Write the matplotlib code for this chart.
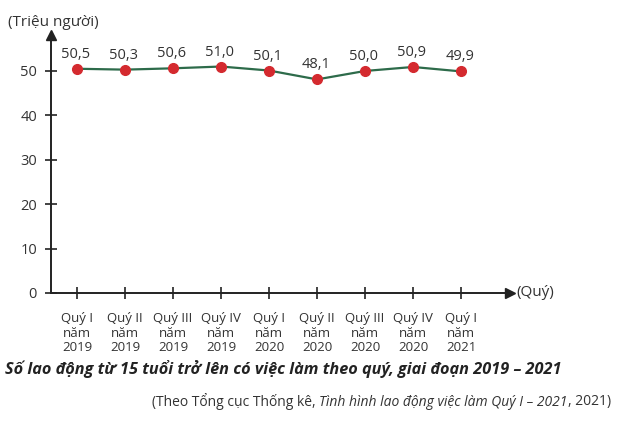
import matplotlib
matplotlib.use("Agg")
import matplotlib.pyplot as plt

quarters = ["Quý I", "Quý II", "Quý III", "Quý IV", "Quý I", "Quý II", "Quý III", "Quý IV", "Quý I"]
years = ["2019", "2019", "2019", "2019", "2020", "2020", "2020", "2020", "2021"]
values = [50.5, 50.3, 50.6, 51.0, 50.1, 48.1, 50.0, 50.9, 49.9]
value_labels = ["50,5", "50,3", "50,6", "51,0", "50,1", "48,1", "50,0", "50,9", "49,9"]
yticks = [0, 10, 20, 30, 40, 50]

FONT = "Open Sans"
plt.rcParams['font.family'] = [FONT, 'DejaVu Sans']
TXT = "#333333"

W, H = 639, 422
fig = plt.figure(figsize=(W / 100, H / 100), dpi=100)
x0, x1, y0, y1 = 51, 510, 293, 35
ax = fig.add_axes([x0 / W, 1 - y0 / H, (x1 - x0) / W, (y0 - y1) / H])
ax.set_xlim(-0.542, 9.02)
ax.set_ylim(0, 58.1)
for s in ax.spines.values():
    s.set_visible(False)
ax.plot([0, 1], [0, 0], color="#222222", lw=1.4, transform=ax.transAxes, clip_on=False)
ax.plot([0, 0], [0, 1], color="#222222", lw=1.4, transform=ax.transAxes, clip_on=False)
ax.plot(1, 0, marker=">", color="#222222", ms=7, transform=ax.transAxes, clip_on=False)
ax.plot(0, 1, marker="^", color="#222222", ms=7, transform=ax.transAxes, clip_on=False)

xs = list(range(len(values)))
ax.set_xticks(xs)
ax.set_xticklabels([f"{q}\nnăm\n{y}" for q, y in zip(quarters, years)],
                   fontsize=9.5, color=TXT, linespacing=1.12)
ax.set_yticks(yticks)
ax.set_yticklabels([str(v) for v in yticks], fontsize=10.5, color=TXT)
ax.tick_params(axis="both", direction="inout", length=8, width=1.2, color="#222222")
ax.tick_params(axis="x", pad=10)
ax.tick_params(axis="y", pad=6)

ax.plot(xs, values, color="#2d6b4a", lw=1.6, zorder=3)
ax.plot(xs, values, "o", color="#d42a2f", ms=7, zorder=4, mec="#d42a2f")
for x, v, lab in zip(xs, values, value_labels):
    ax.annotate(lab, (x, v), xytext=(-1, 5), textcoords="offset points",
                ha="center", va="bottom", fontsize=10.5, color=TXT)

fig.text(8 / W, 1 - 22 / H, "(Triệu người)", fontsize=11, color=TXT, va="center", ha="left")
fig.text(516 / W, 1 - 293 / H, "(Quý)", fontsize=11, color=TXT, va="center", ha="left")

fig.text(5 / W, 1 - 369 / H, "Số lao động từ 15 tuổi trở lên có việc làm theo quý, giai đoạn 2019 – 2021",
         fontsize=11.7, fontweight="bold", fontstyle="italic", color="#222222", va="center", ha="left")

# source line with mixed italic
renderer = fig.canvas.get_renderer()
parts = [("(Theo Tổng cục Thống kê, ", "normal"),
         ("Tình hình lao động việc làm Quý I – 2021", "italic"),
         (", 2021)", "normal")]
xp = 152
for txt, st in parts:
    t = fig.text(xp / W, 1 - 402 / H, txt, fontsize=10, fontstyle=st, color=TXT, va="center", ha="left")
    bb = t.get_window_extent(renderer)
    xp += bb.width

fig.savefig("out.png", dpi=100)
